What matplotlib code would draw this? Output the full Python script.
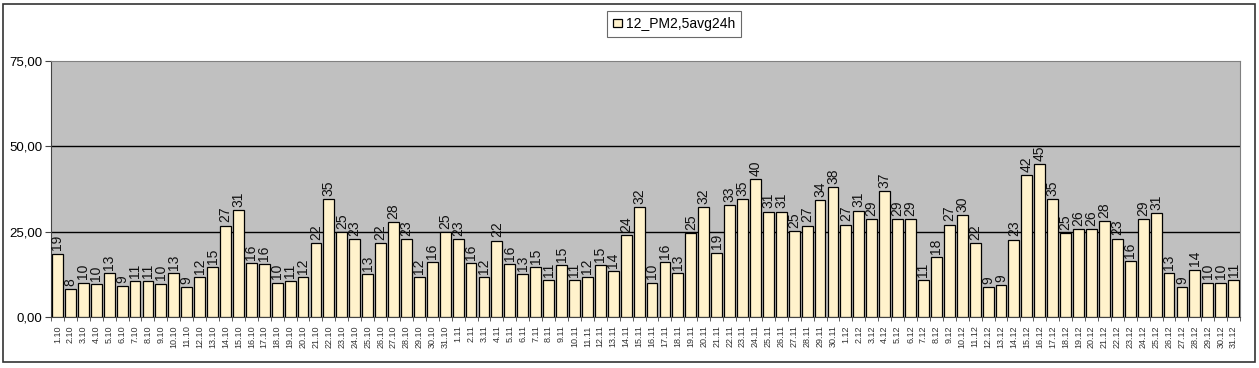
import matplotlib.pyplot as plt
from matplotlib.patches import Rectangle
import numpy as np

plt.rcParams['font.family'] = ['Liberation Sans', 'DejaVu Sans']

# day labels 1.10 .. 31.12
days = [f"{d}.10" for d in range(1, 32)] + [f"{d}.11" for d in range(1, 31)] + [f"{d}.12" for d in range(1, 32)]

oct_vals = [18.6, 8.3, 10.1, 9.6, 13.0, 9.2, 10.6, 10.6, 9.8, 12.9, 8.9, 11.6, 14.6, 26.8, 31.4,
            15.9, 15.6, 10.1, 10.6, 11.6, 21.6, 34.6, 25.0, 22.8, 12.7, 21.8, 27.7, 22.8, 11.6, 16.2, 24.8]
nov_vals = [22.8, 15.9, 11.8, 22.4, 15.6, 12.7, 14.6, 10.9, 15.1, 10.9, 11.8, 15.3, 13.6, 24.1, 32.1,
            10.1, 16.2, 13.0, 24.7, 32.1, 18.9, 32.9, 34.7, 40.3, 30.9, 30.9, 25.3, 26.8, 34.4, 38.2]
dec_vals = [27.1, 31.2, 28.8, 37.0, 28.6, 28.6, 10.7, 17.7, 27.1, 30.0, 21.6, 8.9, 9.4, 22.7, 41.6,
            44.7, 34.6, 24.7, 25.9, 25.9, 28.2, 23.0, 16.4, 28.6, 30.6, 13.0, 8.9, 13.9, 10.1, 10.1, 10.7]
values = oct_vals + nov_vals + dec_vals
series_name = "12_PM2,5avg24h"

fig = plt.figure(figsize=(12.59, 3.68), dpi=100)
ax = fig.add_axes([0.0405, 0.1386, 0.9445, 0.6954])

# outer chart frame
fig.patches.append(Rectangle((0.0024, 0.016), 0.9945, 0.972, transform=fig.transFigure,
                             fill=False, edgecolor='#333333', linewidth=1.2))

x = np.arange(len(values))
bars = ax.bar(x, values, width=0.84, color='#FFF2CC', edgecolor='black', linewidth=0.9,
              label=series_name, zorder=3)

for xi, v in zip(x, values):
    ax.text(xi, v + 0.9, "%.0f" % v, rotation=90, ha='center', va='bottom',
            fontsize=10, color='#111111', zorder=4)

ax.set_facecolor('#c0c0c0')
ax.set_ylim(0, 75)
ax.set_xlim(-0.5, len(values) - 0.5)
ax.set_yticks([0, 25, 50, 75])
ax.set_yticklabels(["0,00", "25,00", "50,00", "75,00"], fontsize=9.5)
for yv in [25, 50]:
    ax.axhline(yv, color='black', linewidth=1, zorder=2)

ax.set_xticks(x)
ax.set_xticklabels(days, rotation=90, fontsize=6.5, color='#333333')
ax.tick_params(axis='x', length=0, pad=6)
ax.set_xticks(np.arange(len(values) + 1) - 0.5, minor=True)
ax.tick_params(axis='x', which='minor', length=3, color='#444444')
ax.tick_params(axis='y', length=4, color='#444444', pad=2)

for side in ['top', 'right']:
    ax.spines[side].set_color('#808080')
for side in ['left', 'bottom']:
    ax.spines[side].set_color('#444444')

leg = ax.legend(loc='center', bbox_to_anchor=(0.524, 1.145), fontsize=10, frameon=True,
                fancybox=False, edgecolor='#444444', handlelength=0.6, handleheight=0.6,
                handletextpad=0.3, borderpad=0.45)
leg.get_frame().set_linewidth(0.8)

fig.savefig("out.png", dpi=100)
